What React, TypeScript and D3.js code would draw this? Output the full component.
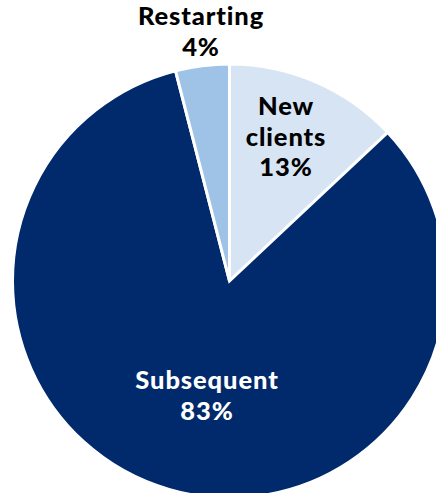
import React from "react";
import * as d3 from "d3";

const categories = ["New clients", "Subsequent", "Restarting"];
const values = [13, 83, 4];
const labelLines = [["New", "clients", "13%"], ["Subsequent", "83%"], ["Restarting", "4%"]];
const colors = ["#d6e4f4", "#002a6b", "#9fc3e7"];
const textColors = ["#000000", "#ffffff", "#000000"];

export default function App() {
  const W = 436, H = 493;
  const cx = 229.5, cy = 281, r = 217;
  const pie = d3.pie<number>().sort(null).value((d) => d)(values);
  const arc = d3.arc<d3.PieArcDatum<number>>().innerRadius(0).outerRadius(r);
  const labelPos: [number, number, number][] = [
    [286, 115, 30.5],
    [207, 389, 31],
    [201, 25, 31],
  ];
  return (
    <svg width={W} height={H} style={{ position: "absolute", left: 0, top: 0 }}>
      <g transform={`translate(${cx},${cy})`}>
        {pie.map((p, i) => (
          <path key={categories[i]} d={arc(p) as string} fill={colors[i]} stroke="#ffffff" strokeWidth={3} strokeLinejoin="miter" />
        ))}
      </g>
      {labelLines.map((lines, i) => (
        <text key={i} textAnchor="middle" fontFamily="Lato, 'Open Sans', sans-serif" fontWeight={900} fontSize={25.5} letterSpacing={0.9} fill={textColors[i]}>
          {lines.map((l, j) => (
            <tspan key={j} x={labelPos[i][0]} y={labelPos[i][1] + j * labelPos[i][2]}>{l}</tspan>
          ))}
        </text>
      ))}
    </svg>
  );
}
